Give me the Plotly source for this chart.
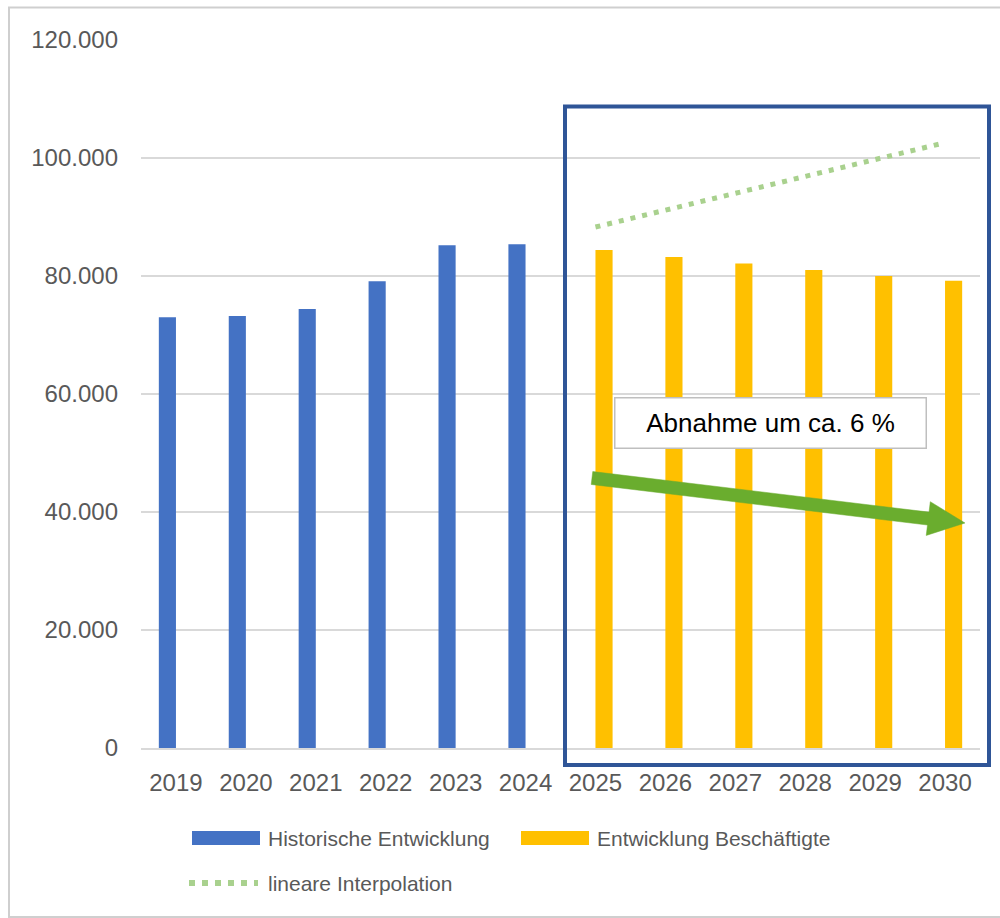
import math
import plotly.graph_objects as go

# ---------------- data ----------------
years = ["2019", "2020", "2021", "2022", "2023", "2024",
         "2025", "2026", "2027", "2028", "2029", "2030"]
historisch = [73000, 73200, 74400, 79100, 85200, 85400,
              None, None, None, None, None, None]
beschaeftigte = [None, None, None, None, None, None,
                 84400, 83200, 82100, 81000, 80000, 79200]
interp_years = ["2025", "2026", "2027", "2028", "2029", "2030"]
interpolation = [88300, 91200, 94000, 96900, 99700, 102600]
y_ticks = [0, 20000, 40000, 60000, 80000, 100000, 120000]

names = ["Historische Entwicklung", "Entwicklung Beschäftigte", "lineare Interpolation"]
note = "Abnahme um ca. 6 %"

# ---------------- layout geometry ----------------
W, H = 1000, 918
L, R, T, B = 141, 20, 40, 170
PW, PH = W - L - R, H - T - B


def px(x):
    return (x - L) / PW


def py(y):
    return (H - B - y) / PH


FONT = "Liberation Sans, Arial, sans-serif"
GRAY = "#595959"
BLUE = "#4472C4"
YELLOW = "#FFC000"
LGREEN = "#A9D18E"
GREEN = "#6AAD2E"

fig = go.Figure()
fig.add_trace(go.Bar(x=years, y=historisch, name=names[0], marker_color=BLUE,
                     marker_line_width=0, showlegend=False))
fig.add_trace(go.Bar(x=years, y=beschaeftigte, name=names[1], marker_color=YELLOW,
                     marker_line_width=0, showlegend=False))
fig.add_trace(go.Scatter(x=interp_years, y=interpolation, name=names[2], mode="lines",
                         line=dict(color=LGREEN, width=5, dash="5px,7px"),
                         showlegend=False))

shapes = []
# outer border
shapes.append(dict(type="rect", xref="paper", yref="paper",
                   x0=px(9), x1=px(1003), y0=py(917), y1=py(7.5),
                   line=dict(color="#CFCFCF", width=2), layer="below"))
# highlight rectangle
shapes.append(dict(type="rect", xref="paper", yref="paper",
                   x0=px(565), x1=px(989), y0=py(765), y1=py(106.5),
                   line=dict(color="#2F5597", width=4)))
# green arrow (polygon)
sx, sy = 592, 478
tx, ty = 965, 523
dx, dy = tx - sx, ty - sy
ln = math.hypot(dx, dy)
ux, uy = dx / ln, dy / ln
nx, ny = -uy, ux
head_len = 37
bx, by = tx - ux * head_len, ty - uy * head_len
sw, hw = 6.5, 17
pts = [(sx + nx * sw, sy + ny * sw), (bx + nx * sw, by + ny * sw),
       (bx + nx * hw, by + ny * hw), (tx, ty),
       (bx - nx * hw, by - ny * hw), (bx - nx * sw, by - ny * sw),
       (sx - nx * sw, sy - ny * sw)]
path = "M " + " L ".join(f"{px(a):.5f},{py(b):.5f}" for a, b in pts) + " Z"
shapes.append(dict(type="path", xref="paper", yref="paper", path=path,
                   fillcolor=GREEN, line=dict(color=GREEN, width=0.5)))

# custom legend swatches
shapes.append(dict(type="rect", xref="paper", yref="paper",
                   x0=px(192), x1=px(260), y0=py(845), y1=py(831),
                   fillcolor=BLUE, line=dict(width=0)))
shapes.append(dict(type="rect", xref="paper", yref="paper",
                   x0=px(521), x1=px(589), y0=py(845), y1=py(831),
                   fillcolor=YELLOW, line=dict(width=0)))
shapes.append(dict(type="line", xref="paper", yref="paper",
                   x0=px(189), x1=px(258), y0=py(883), y1=py(883),
                   line=dict(color=LGREEN, width=6, dash="6px,7px")))

annotations = [
    dict(text=note, xref="paper", yref="paper", x=px(770.5), y=py(423),
         xanchor="center", yanchor="middle", showarrow=False,
         font=dict(family=FONT, size=26, color="#000000"),
         bgcolor="#FFFFFF", bordercolor="#BFBFBF", borderwidth=1.5,
         borderpad=0, width=310, height=49),
    dict(text=names[0], xref="paper", yref="paper", x=px(266), y=py(838),
         xanchor="left", yanchor="middle", showarrow=False,
         font=dict(family=FONT, size=21, color=GRAY)),
    dict(text=names[1], xref="paper", yref="paper", x=px(595), y=py(838),
         xanchor="left", yanchor="middle", showarrow=False,
         font=dict(family=FONT, size=21, color=GRAY)),
    dict(text=names[2], xref="paper", yref="paper", x=px(266), y=py(883),
         xanchor="left", yanchor="middle", showarrow=False,
         font=dict(family=FONT, size=21, color=GRAY)),
]

fig.update_layout(
    width=W, height=H,
    margin=dict(l=L, r=R, t=T, b=B, autoexpand=False),
    paper_bgcolor="#FFFFFF", plot_bgcolor="#FFFFFF",
    barmode="group", bargap=0.51, bargroupgap=0,
    separators=",.",
    font=dict(family=FONT, color=GRAY),
    showlegend=False,
    shapes=shapes, annotations=annotations,
)
fig.update_xaxes(type="category", categoryorder="array", categoryarray=years,
                 range=[-0.5, 11.5], showgrid=False, zeroline=False,
                 showline=True, linecolor="#D9D9D9", linewidth=1.5,
                 ticks="", ticklabelstandoff=12,
                 tickfont=dict(family=FONT, size=24, color=GRAY))
fig.update_yaxes(range=[0, 120000], tickvals=y_ticks, tickformat=",d",
                 showgrid=True, gridcolor="#D9D9D9", gridwidth=1.5,
                 zeroline=False, showline=False, ticks="",
                 ticklabelstandoff=22,
                 tickfont=dict(family=FONT, size=24, color=GRAY))

fig.write_html("out.html")
